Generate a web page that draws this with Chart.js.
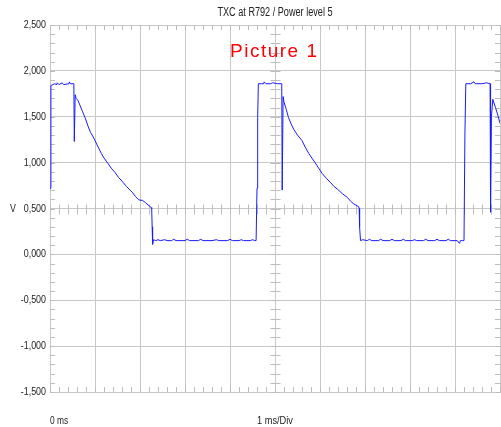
<!DOCTYPE html>
<html>
<head>
<meta charset="utf-8">
<title>TXC at R792 / Power level 5</title>
<script src="https://cdn.jsdelivr.net/npm/chart.js@4/dist/chart.umd.min.js"></script>
<style>
    html, body { margin: 0; padding: 0; background: #fff; }
    #wrap { width: 501px; height: 427px; position: relative; }
</style>
</head>
<body>
<div id="wrap"><canvas id="scope"></canvas></div>
<script>
// Trace samples: time in ms, level in V
const timeMs = [
    0, 0.02, 0.1, 0.15, 0.16, 0.2, 0.27, 0.3, 0.42, 0.43, 0.45, 0.53,
    0.54, 0.56, 0.58, 0.62, 0.67, 0.72, 0.78, 0.85, 0.9, 0.96, 1.0, 1.07,
    1.14, 1.2, 1.29, 1.36, 1.45, 1.52, 1.58, 1.63, 1.7, 1.78, 1.84, 1.9,
    1.96, 2.0, 2.05, 2.12, 2.2, 2.25, 2.26, 2.27, 2.28, 2.3,
    2.35, 2.4, 2.45, 2.55, 2.6, 2.7, 2.75, 2.8, 3.0, 3.05, 3.1, 3.3, 3.35,
    3.4, 3.6, 3.7, 3.75, 3.95, 4.0, 4.05, 4.2, 4.25, 4.3, 4.45, 4.5, 4.55,
    4.58, 4.6, 4.615, 4.63, 4.7, 4.75, 4.76, 4.8, 4.9, 4.95, 5.05, 5.15,
    5.16, 5.18, 5.2, 5.25, 5.3, 5.36, 5.42, 5.5, 5.6, 5.67, 5.75, 5.82,
    5.89, 5.97, 6.05, 6.14, 6.24, 6.31, 6.39, 6.5, 6.61, 6.68, 6.75, 6.82,
    6.86, 6.87, 6.88, 6.9, 6.95, 7.05, 7.1, 7.15, 7.3, 7.35, 7.4, 7.55,
    7.6, 7.65, 7.8, 7.85, 7.9, 8.05, 8.1, 8.15, 8.3, 8.35, 8.4, 8.55, 8.6,
    8.65, 8.8, 8.85, 8.9, 9.05, 9.1, 9.12, 9.17, 9.2, 9.22, 9.24, 9.35,
    9.42, 9.45, 9.6, 9.7, 9.78, 9.79, 9.81, 9.84, 9.9, 9.95, 10
];
const volts = [
    0.72, 1.84, 1.86, 1.85, 1.87, 1.85, 1.87, 1.85, 1.86, 1.88, 1.86, 1.86,
    1.23, 1.74, 1.70, 1.68, 1.62, 1.56, 1.49, 1.39, 1.33, 1.28, 1.24, 1.17,
    1.10, 1.05, 0.99, 0.94, 0.89, 0.84, 0.81, 0.78, 0.74, 0.70, 0.67, 0.63,
    0.60, 0.59, 0.59, 0.565, 0.53, 0.51, 0.50, 0.30, 0.11, 0.16,
    0.15, 0.16, 0.15, 0.16, 0.15, 0.15, 0.165, 0.15, 0.15, 0.165, 0.15, 0.15, 0.165,
    0.15, 0.15, 0.16, 0.15, 0.15, 0.165, 0.15, 0.15, 0.16, 0.15, 0.15, 0.16, 0.15,
    0.15, 0.72, 1.49, 1.86, 1.86, 1.86, 1.88, 1.86, 1.86, 1.87, 1.86, 1.86,
    0.70, 1.72, 1.66, 1.58, 1.49, 1.42, 1.36, 1.30, 1.24, 1.17, 1.10, 1.05,
    1.00, 0.94, 0.88, 0.83, 0.78, 0.74, 0.71, 0.66, 0.62, 0.58, 0.55, 0.53,
    0.52, 0.50, 0.30, 0.15, 0.16, 0.15, 0.165, 0.15, 0.15, 0.165, 0.15, 0.15,
    0.165, 0.15, 0.15, 0.165, 0.15, 0.15, 0.16, 0.15, 0.15, 0.165, 0.15, 0.15, 0.165,
    0.15, 0.15, 0.165, 0.15, 0.15, 0.12, 0.15, 0.15, 0.15, 1.30, 1.86, 1.86,
    1.88, 1.86, 1.86, 1.87, 1.86, 0.46, 1.50, 1.69, 1.60, 1.52, 1.43
];

// Axis settings
const xRange = [0, 10];      // ms, 1 ms/Div
const yRange = [-1.5, 2.5];  // V
const yStep = 0.5;

const chartTitle = 'TXC at R792 / Power level 5';
const noteText = 'Picture 1';
const unitText = 'V';
const originText = '0 ms';
const divText = '1 ms/Div';

const gridColor = '#c8c8c8';
const tickColor = '#bdbdbd';
const textColor = '#222';
const sansFont = '"Liberation Sans", Arial, sans-serif';

const points = timeMs.map((t, i) => ({ x: t, y: volts[i] }));

const fmtVolt = v => v.toFixed(3).replace('.', ',');

// No narrow face is installed, so squeeze the regular one sideways
function narrowText(ctx, text, x, y, align, sx) {
    ctx.save();
    ctx.textAlign = align;
    ctx.scale(sx, 1);
    ctx.fillText(text, x / sx, y);
    ctx.restore();
}

// Minor ticks along the border and on the centre cross, 5 per division
const scopeTicks = {
    id: 'scopeTicks',
    beforeDatasetsDraw(chart) {
        const { ctx, chartArea: a, scales: { x, y } } = chart;
        ctx.save();
        ctx.strokeStyle = tickColor;
        ctx.lineWidth = 1;
        ctx.beginPath();
        const midX = Math.round(x.getPixelForValue((xRange[0] + xRange[1]) / 2)) + 0.5;
        const midY = Math.round(y.getPixelForValue(0.5)) + 0.5;
        for (let v = xRange[0]; v <= xRange[1] + 1e-9; v += 0.2) {
            const px = Math.round(x.getPixelForValue(v)) + 0.5;
            ctx.moveTo(px, a.top); ctx.lineTo(px, a.top + 5);
            ctx.moveTo(px, a.bottom); ctx.lineTo(px, a.bottom - 5);
            ctx.moveTo(px, midY - 5); ctx.lineTo(px, midY + 5);
        }
        for (let v = yRange[0]; v <= yRange[1] + 1e-9; v += 0.1) {
            const py = Math.round(y.getPixelForValue(v)) + 0.5;
            ctx.moveTo(a.left, py); ctx.lineTo(a.left + 5, py);
            ctx.moveTo(a.right, py); ctx.lineTo(a.right - 5, py);
            ctx.moveTo(midX - 5, py); ctx.lineTo(midX + 5, py);
        }
        ctx.stroke();
        ctx.restore();
    },
    afterDraw(chart) {
        const { ctx, chartArea: a, scales: { y } } = chart;
        const cx = (a.left + a.right) / 2;
        ctx.save();
        ctx.fillStyle = textColor;
        ctx.textBaseline = 'middle';

        ctx.font = '12px ' + sansFont;
        narrowText(ctx, chartTitle, cx, 12.5, 'center', 0.76);

        ctx.font = '11px ' + sansFont;
        y.ticks.forEach(t => {
            narrowText(ctx, fmtVolt(t.value), a.left - 4, y.getPixelForValue(t.value), 'right', 0.81);
        });
        narrowText(ctx, unitText, 10, y.getPixelForValue(0.5), 'left', 0.8);
        narrowText(ctx, originText, a.left, 421, 'left', 0.76);
        narrowText(ctx, divText, cx, 421, 'center', 0.84);

        ctx.fillStyle = '#ff0000';
        ctx.font = '19px ' + sansFont;
        ctx.letterSpacing = '1.5px';
        ctx.textAlign = 'left';
        ctx.fillText(noteText, 230, 52);
        ctx.restore();
    }
};

new Chart(document.getElementById('scope'), {
    type: 'line',
    data: {
        datasets: [{
            data: points,
            borderColor: '#1a1aff',
            borderWidth: 1,
            pointRadius: 0,
            tension: 0,
            fill: false
        }]
    },
    options: {
        responsive: true,
        maintainAspectRatio: false,
        animation: false,
        layout: { padding: { top: 25, right: 1, left: 0, bottom: 0 } },
        plugins: {
            legend: { display: false },
            tooltip: { enabled: false },
            title: { display: false }
        },
        scales: {
            x: {
                type: 'linear',
                min: xRange[0],
                max: xRange[1],
                afterFit: s => { s.height = 35; },
                ticks: { stepSize: 1, display: false },
                grid: { color: gridColor, drawTicks: false },
                border: { color: gridColor }
            },
            y: {
                min: yRange[0],
                max: yRange[1],
                afterFit: s => { s.width = 50; },
                ticks: { stepSize: yStep, display: false },
                grid: { color: gridColor, drawTicks: false },
                border: { color: gridColor }
            }
        }
    },
    plugins: [scopeTicks]
});
</script>
</body>
</html>
